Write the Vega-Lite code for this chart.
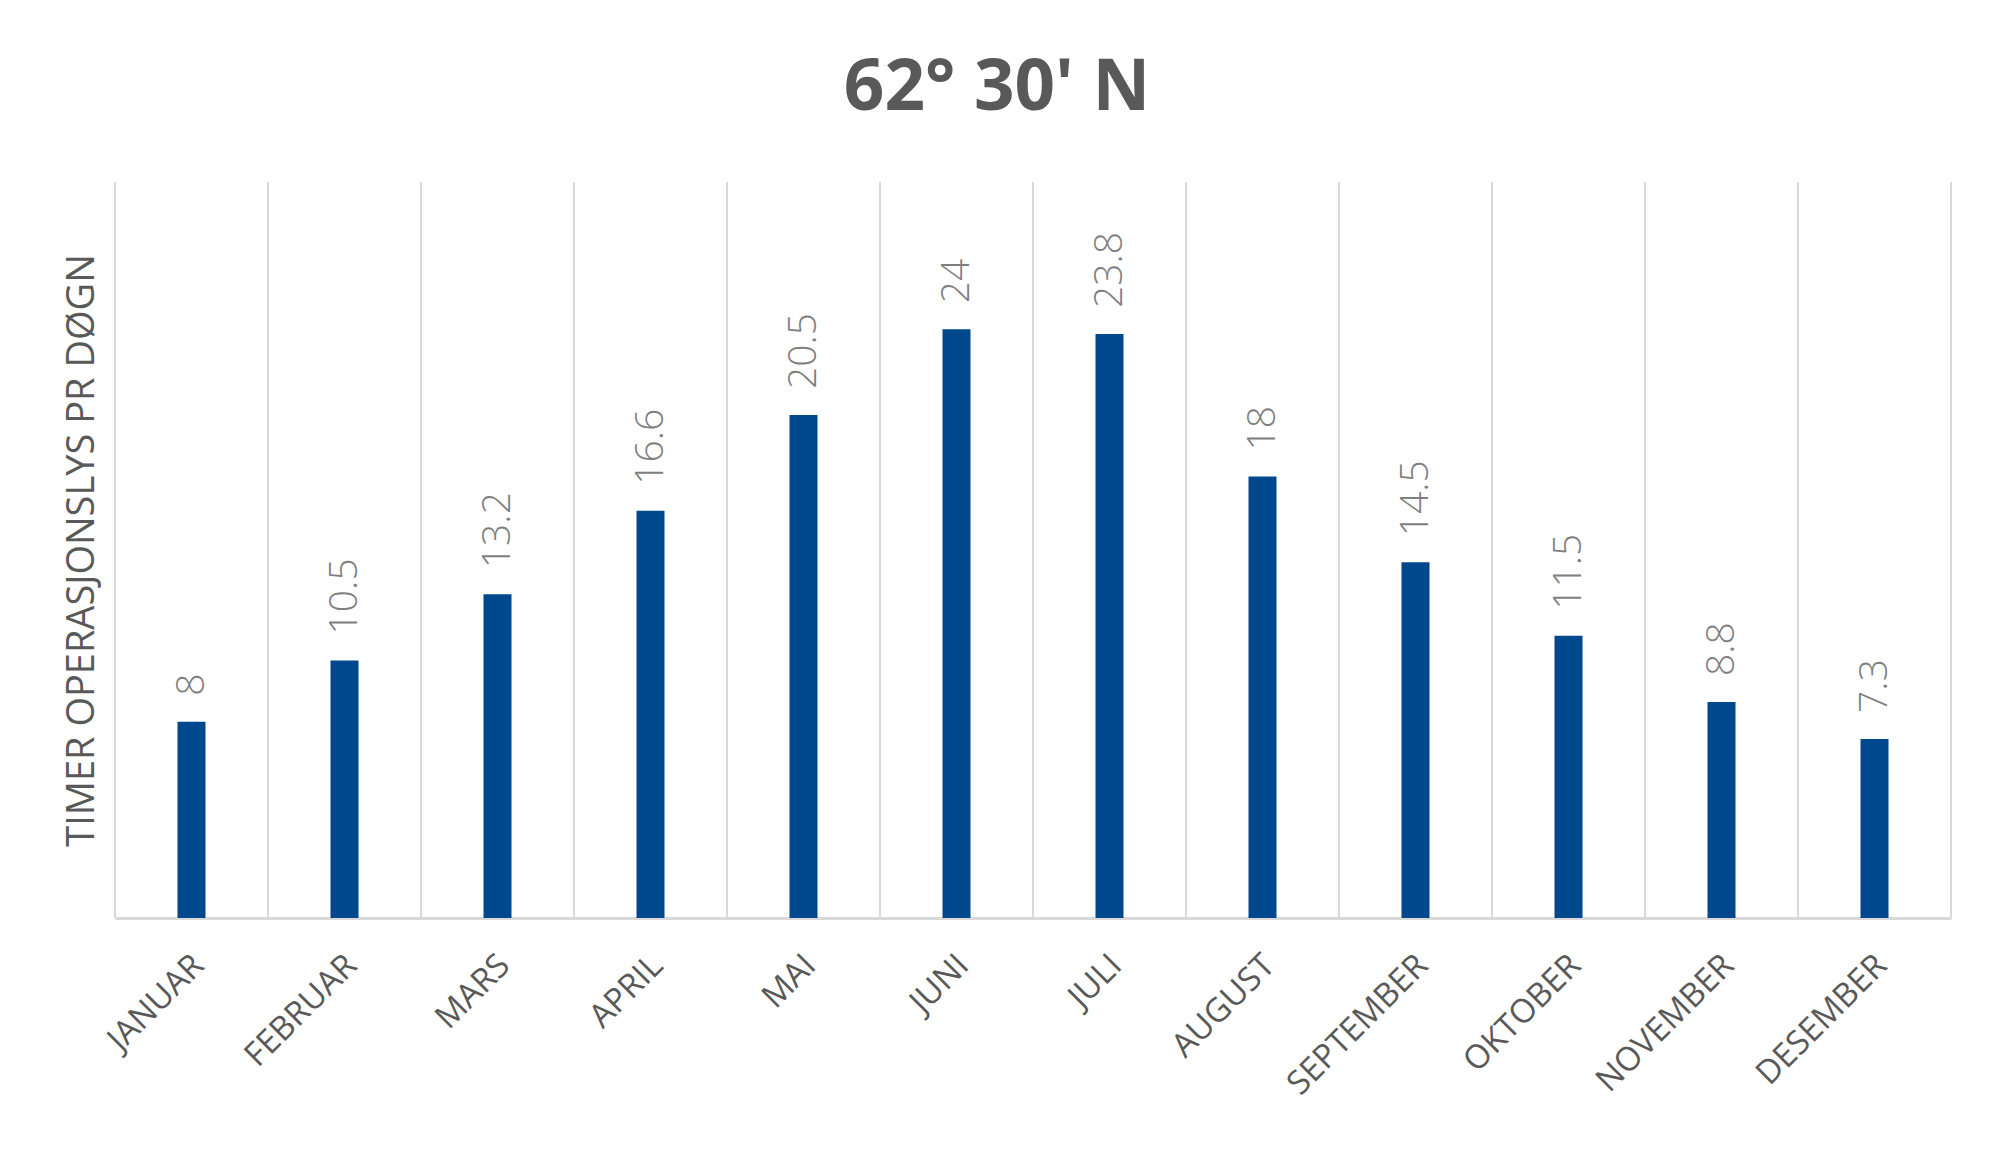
{
  "$schema": "https://vega.github.io/schema/vega-lite/v6.json",
  "description": "Timer operasjonslys pr døgn, 62° 30' N",
  "width": 1836,
  "height": 736,
  "autosize": "none",
  "padding": {"left": 115, "top": 182, "right": 49, "bottom": 257},
  "background": "white",
  "title": {
    "text": "62° 30' N",
    "font": "Open Sans",
    "fontSize": 71,
    "fontWeight": "bold",
    "color": "#595959",
    "offset": 56,
    "dx": -36
  },
  "data": {
    "values": [
      {"month": "JANUAR", "hours": 8},
      {"month": "FEBRUAR", "hours": 10.5},
      {"month": "MARS", "hours": 13.2},
      {"month": "APRIL", "hours": 16.6},
      {"month": "MAI", "hours": 20.5},
      {"month": "JUNI", "hours": 24},
      {"month": "JULI", "hours": 23.8},
      {"month": "AUGUST", "hours": 18},
      {"month": "SEPTEMBER", "hours": 14.5},
      {"month": "OKTOBER", "hours": 11.5},
      {"month": "NOVEMBER", "hours": 8.8},
      {"month": "DESEMBER", "hours": 7.3}
    ]
  },
  "layer": [
    {
      "mark": {"type": "rule", "color": "#d9d9d9", "strokeWidth": 2},
      "encoding": {
        "x": {"field": "month", "type": "nominal", "sort": null, "bandPosition": 0, "title": null}
      }
    },
    {
      "transform": [{"filter": "datum.month == 'DESEMBER'"}],
      "mark": {"type": "rule", "color": "#d9d9d9", "strokeWidth": 2},
      "encoding": {
        "x": {"field": "month", "type": "nominal", "sort": null, "bandPosition": 1, "title": null}
      }
    },
    {
      "mark": {"type": "bar", "color": "#00488d", "size": 28},
      "encoding": {
        "x": {"field": "month", "type": "nominal", "sort": null, "title": null},
        "y": {
          "field": "hours",
          "type": "quantitative",
          "scale": {"domain": [0, 30], "nice": false},
          "axis": {
            "title": "TIMER OPERASJONSLYS PR DØGN",
            "labels": false,
            "ticks": false,
            "domain": false,
            "grid": false
          }
        }
      }
    },
    {
      "mark": {
        "type": "text",
        "angle": 270,
        "align": "left",
        "baseline": "middle",
        "dx": 26,
        "font": "Open Sans",
        "fontSize": 39,
        "fontWeight": 300,
        "color": "#7f7f7f"
      },
      "encoding": {
        "x": {"field": "month", "type": "nominal", "sort": null, "title": null},
        "y": {"field": "hours", "type": "quantitative"},
        "text": {"field": "hours", "type": "quantitative"}
      }
    },
    {
      "mark": {
        "type": "text",
        "angle": 315,
        "align": "right",
        "baseline": "middle",
        "dx": -25,
        "dy": 35,
        "font": "Open Sans",
        "fontSize": 33,
        "color": "#595959"
      },
      "encoding": {
        "x": {"field": "month", "type": "nominal", "sort": null, "title": null},
        "y": {"datum": 0, "type": "quantitative"},
        "text": {"field": "month", "type": "nominal"}
      }
    }
  ],
  "config": {
    "view": {"stroke": null},
    "scale": {"bandPaddingInner": 0, "bandPaddingOuter": 0},
    "axisX": {
      "labels": false,
      "ticks": false,
      "grid": false,
      "domainColor": "#d9d9d9",
      "domainWidth": 3
    },
    "axisY": {
      "titleFont": "Open Sans",
      "titleFontSize": 38,
      "titleFontWeight": "normal",
      "titleColor": "#595959",
      "titlePadding": 14
    }
  }
}
